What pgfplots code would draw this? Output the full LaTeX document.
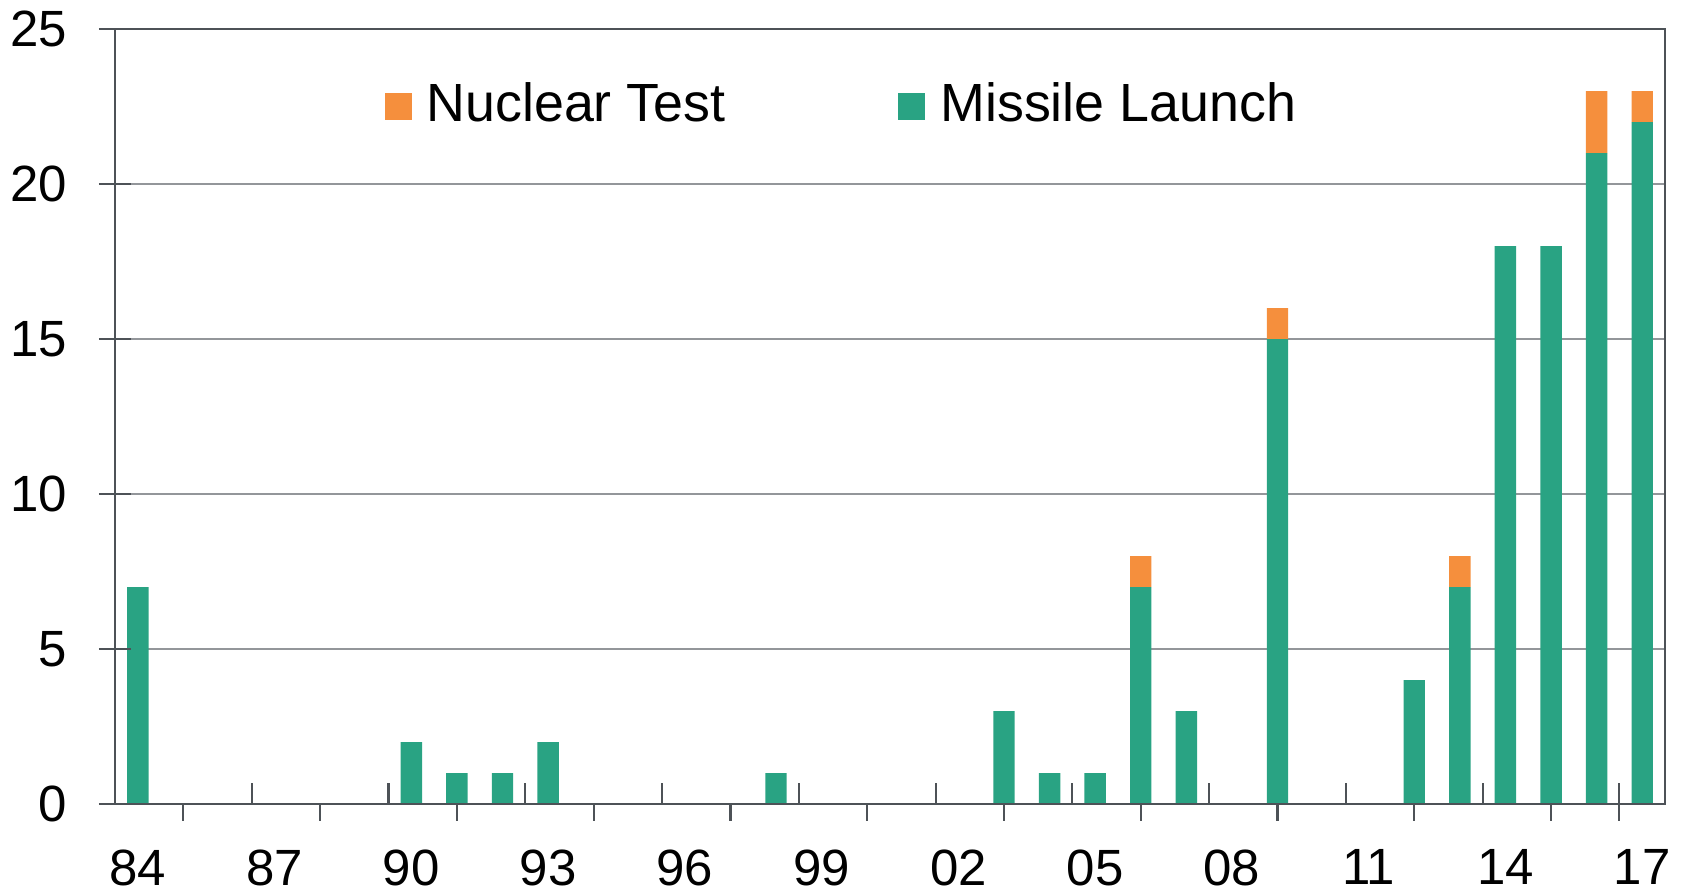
\documentclass[border=0pt]{standalone}
\usepackage{fontspec}
\setmainfont{Liberation Sans}
\usepackage{pgfplots}
\pgfplotsset{compat=1.18}
\definecolor{missile}{HTML}{29A383}
\definecolor{nuclear}{HTML}{F58F3D}
\definecolor{axisgray}{HTML}{4D5257}
\definecolor{gridgray}{HTML}{93969A}

\begin{document}
\begin{tikzpicture}
\pgfplotsset{
  base/.style={width=15.5cm,height=7.75cm,scale only axis,
    xmin=-0.5,xmax=33.5,ymin=0,ymax=25,
    axis line style={axisgray,line width=0.6pt},
    tick style={axisgray,line width=0.6pt}},
}
\begin{axis}[base,name=main,
  ybar stacked,bar width=0.47,
  ytick={0,5,...,25},
  ymajorgrids,grid style={gridgray,line width=0.5pt},
  xtick={0,3,...,33},
  xticklabels={84,87,90,93,96,99,02,05,08,11,14,17},
  major tick length=0pt,
  tick label style={font=\fontsize{14.5}{17}\selectfont},
  /pgf/number format/assume math mode=true,
  yticklabel style={inner sep=0pt,xshift=-0.47cm},
  xticklabel style={inner sep=0pt,yshift=-0.45cm},
  legend columns=2,reverse legend,
  legend style={at={(0.1735,0.902)},anchor=west,draw=none,fill=none,
    inner sep=0pt,font=\fontsize{15.3}{18}\selectfont,
    nodes={inner xsep=0.15cm,inner ysep=0pt}},
  /tikz/every even column/.append style={column sep=1.58cm},
  legend image code/.code={\path[fill,draw=none] (0cm,-0.15cm) rectangle (0.27cm,0.12cm);},
]
\addplot[fill=missile,draw=none] coordinates {
  (0,7)(1,0)(2,0)(3,0)(4,0)(5,0)(6,2)(7,1)(8,1)(9,2)(10,0)(11,0)
  (12,0)(13,0)(14,1)(15,0)(16,0)(17,0)(18,0)(19,3)(20,1)(21,1)(22,7)
  (23,3)(24,0)(25,15)(26,0)(27,0)(28,4)(29,7)(30,18)(31,18)(32,21)(33,22)};
\addlegendentry{Missile Launch}
\addplot[fill=nuclear,draw=none] coordinates {
  (0,0)(1,0)(2,0)(3,0)(4,0)(5,0)(6,0)(7,0)(8,0)(9,0)(10,0)(11,0)
  (12,0)(13,0)(14,0)(15,0)(16,0)(17,0)(18,0)(19,0)(20,0)(21,0)(22,1)
  (23,0)(24,0)(25,1)(26,0)(27,0)(28,0)(29,1)(30,0)(31,0)(32,2)(33,1)};
\addlegendentry{Nuclear Test}
\end{axis}
% tick marks across the value axis
\begin{axis}[base,axis y line*=left,axis x line=none,
  ytick={0,5,...,25},yticklabels={},xtick=\empty,
  tick align=center,major tick length=0.32cm]
\end{axis}
% outward tick marks on the category axis
\begin{axis}[base,axis x line*=bottom,axis y line=none,
  xtick={1,4,...,31,32.5},xticklabels={},ytick=\empty,
  tick align=outside,major tick length=0.165cm]
\end{axis}
% inward tick marks on the category axis
\begin{axis}[base,axis x line*=bottom,axis y line=none,
  xtick={2.5,5.5,...,32.5},xticklabels={},ytick=\empty,
  tick align=inside,major tick length=0.21cm]
\end{axis}
\useasboundingbox ([xshift=-1.15cm,yshift=-0.87cm]main.south west)
  rectangle ([xshift=0.21cm,yshift=0.29cm]main.north east);
\end{tikzpicture}
\end{document}
